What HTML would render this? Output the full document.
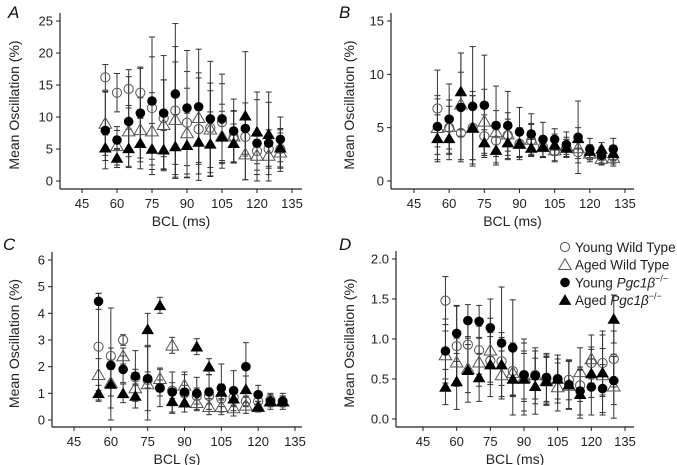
<!DOCTYPE html>
<html><head><meta charset="utf-8"><style>
body{margin:0;background:#fff;}
svg{display:block;font-family:"Liberation Sans",Arial,sans-serif;}
</style></head><body>
<svg id="fig" width="677" height="465" viewBox="0 0 677 465"></svg>
<script>
const bcl = [55,60,65,70,75,80,85,90,95,100,105,110,115,120,125,130];
const xTicks = [45,60,75,90,105,120,135];
// Panel A
const aYWT = [16.2,13.8,14.4,13.8,11.4,9.8,11,9.1,8.1,8.3,9.2,6.9,6.9,4.7,5,5];
const aAWT = [9,5.5,7.8,8,7.8,8.8,9.6,7.5,9.9,8.1,7,7,4.2,4,4,4.5];
const aYP = [7.9,6.4,9.3,10.6,12.5,10.6,13.6,11.4,11.6,9.7,9.7,7.8,8.2,5.9,5.9,6.5];
const aAP = [5.2,3.6,5.1,5.9,5,4.9,5.4,5.6,6.1,5.8,6.9,5.9,10.2,7.7,7.3,5.2];
const aYWTe = [2,3,3,4,8,6,10,8,8,7,6,4,3,3,3,3];
const aAWTe = [5,3,4,5,6,7,9,7,7,6,5,4,4,3,3,3];
const aYPe = [6,1.5,7,7,10,9,11,9,9,9,7,5,4,8,8,3.5];
const aAPe = [2,1.5,3,4,4,3,5,5,5,5,4,3,10,5,5,3];
const aYTicks = [0,5,10,15,20,25];
// Panel B
const bYWT = [6.8,5,4.5,5,4.2,3.8,4.3,3.5,3.8,3.2,2.8,3.1,2.7,2.4,2.3,2.3];
const bAWT = [5,5.1,7.2,5,5.6,4.6,4.4,3.5,3.9,3.2,2.9,3.3,3.1,2.6,2.1,2.2];
const bYP = [5.1,5.8,6.9,7,7.1,5.2,5.2,4.6,4.4,3.9,3.9,3.4,4.1,3,2.4,3];
const bAP = [4,4,8.4,5,3.6,2.9,3.6,3.5,3.1,3.2,3.4,3.1,4,2.8,3,2.6];
const bYWTe = [3.6,2,2.5,3,2,1.5,1.5,1.3,1.5,1,1,0.8,1,0.6,0.6,0.7];
const bAWTe = [3,2.5,3,3,3,2,2,1.5,1.5,1,1,0.8,1,0.6,0.6,0.8];
const bYPe = [2.6,3.3,5.1,5.6,4.7,3.7,3.2,2.3,1.9,1.6,1,1.2,3.4,1,0.8,1];
const bAPe = [2.2,2,3.6,3.4,1.2,1.2,1.5,1.2,0.8,1,1,0.8,1,0.6,0.6,0.7];
const bYTicks = [0,5,10,15];
// Panel C
const cYWT = [2.75,2.4,3,1.6,1.5,1.2,1.1,1,0.9,0.9,0.8,0.85,0.7,0.7,0.75,0.7];
const cAWT = [1.7,1.4,2.4,1.2,1.35,1.55,2.8,1.3,0.65,0.5,0.5,0.45,0.55,0.5,0.7,0.7];
const cYP = [4.45,2.05,1.9,1.65,1.55,1.2,1.05,1.05,1,1.05,1.2,1.1,2,0.95,0.7,0.7];
const cAP = [1,1.35,1,0.9,3.4,4.3,0.7,0.65,2.75,2,1.05,0.8,1.15,0.5,0.7,0.7];
const cYWTe = [2.0,0.3,0.2,0.3,0.3,0.3,0.3,0.3,0.3,0.3,0.3,0.3,0.2,0.2,0.2,0.2];
const cAWTe = [0.6,0.5,0.3,0.4,1.4,0.4,0.3,0.4,0.3,0.3,0.3,0.3,0.3,0.2,0.2,0.2];
const cYPe = [0.3,2.15,0.5,0.95,1.2,0.7,0.75,0.75,0.6,0.65,0.9,0.75,0.9,0.35,0.3,0.3];
const cAPe = [0.3,0.9,0.35,0.45,0.6,0.3,0.45,0.35,0.3,0.3,0.3,0.3,0.5,0.2,0.2,0.2];
const cYTicks = [0,1,2,3,4,5,6];
// Panel D
const dYWT = [1.48,0.91,0.93,0.86,0.73,0.72,0.6,0.55,0.55,0.5,0.5,0.49,0.42,0.7,0.7,0.75];
const dAWT = [0.8,0.71,0.63,0.71,0.86,0.55,0.58,0.52,0.55,0.48,0.4,0.42,0.59,0.75,0.55,0.41];
const dYP = [0.85,1.07,1.23,1.22,1.14,0.95,0.89,0.55,0.54,0.52,0.5,0.43,0.35,0.4,0.38,0.48];
const dAP = [0.4,0.47,0.61,0.52,0.68,0.68,0.5,0.5,0.41,0.47,0.5,0.43,0.31,0.57,0.58,1.25];
const dYWTe = [0.3,0.5,0.3,0.3,0.3,0.3,0.3,0.3,0.3,0.3,0.25,0.25,0.2,0.2,0.4,0.35];
const dAWTe = [0.3,0.3,0.3,0.3,0.4,0.3,0.3,0.3,0.3,0.3,0.3,0.3,0.3,0.3,0.5,0.4];
const dYPe = [0.4,0.35,0.2,0.2,0.36,0.7,0.6,0.45,0.35,0.3,0.3,0.3,0.3,0.35,0.3,0.3];
const dAPe = [0.22,0.35,0.4,0.3,0.4,0.4,0.45,0.45,0.35,0.3,0.3,0.3,0.3,0.3,0.3,0.3];
const dYTicks = [0,0.5,1,1.5,2];

const NS='http://www.w3.org/2000/svg';
const svg=document.getElementById('fig');
function mk(tag,attrs,parent,text){const e=document.createElementNS(NS,tag);for(const k in attrs)e.setAttribute(k,attrs[k]);if(text!==undefined)e.textContent=text;(parent||svg).appendChild(e);return e;}

function panel(cfg){
  const g=mk('g',{});
  
  
  const X=v=>cfg.x45+(v-45)*(cfg.x135-cfg.x45)/90;
  const Y=v=>cfg.y0+(v-0)*(cfg.yTop-cfg.y0)/cfg.ymax;
  const lbl=mk('text',{x:cfg.lx,y:cfg.ly,'font-size':17,'font-style':'italic',fill:'#111'},g,cfg.id);
  
  
  const ya=mk('line',{x1:cfg.ax,x2:cfg.ax,y1:cfg.yTop-8,y2:cfg.axY,stroke:'#222','stroke-width':1.2},g);
  
  
  const xa=mk('line',{x1:cfg.ax,x2:cfg.axEnd,y1:cfg.axY,y2:cfg.axY,stroke:'#222','stroke-width':1.2},g);
  
  
  cfg.yticks.forEach(t=>{
    mk('line',{x1:cfg.ax-4,x2:cfg.ax,y1:Y(t),y2:Y(t),stroke:'#222'},g);
    const tl=mk('text',{x:cfg.ax-7,y:Y(t)+4.5,'font-size':13,'text-anchor':'end',fill:'#222'},g,cfg.fmt(t));
    
    
  });
  xTicks.forEach(t=>{
    mk('line',{x1:X(t),x2:X(t),y1:cfg.axY,y2:cfg.axY+4,stroke:'#222'},g);
    const tl=mk('text',{x:X(t),y:cfg.axY+19,'font-size':13,'text-anchor':'middle',fill:'#222'},g,String(t));
    
    
  });
  const xt=mk('text',{x:(cfg.ax+cfg.axEnd)/2,y:cfg.axY+37,'font-size':14,'text-anchor':'middle',fill:'#222'},g,cfg.xtitle);
  
  
  const cy=(cfg.yTop+cfg.axY)/2;
  const yt=mk('text',{x:cfg.ytx,y:cy,'font-size':14,'text-anchor':'middle',fill:'#222',transform:`rotate(-90 ${cfg.ytx} ${cy})`},g,'Mean Oscillation (%)');
  
  
  const series=[['young-wt',cfg.s[0],cfg.e[0],'oc'],['aged-wt',cfg.s[1],cfg.e[1],'ot'],['young-pgc',cfg.s[2],cfg.e[2],'fc'],['aged-pgc',cfg.s[3],cfg.e[3],'ft']];
  series.forEach(([nm,vals,errs])=>{
    vals.forEach((v,i)=>{
      const x=X(bcl[i]);const lo=Math.max(0,v-errs[i]);const hi=Math.min(cfg.ymax,v+errs[i]);
      const eb=mk('line',{x1:x,x2:x,y1:Y(lo),y2:Y(hi),stroke:'#333','stroke-width':1},g);
      
      
      mk('line',{x1:x-3,x2:x+3,y1:Y(lo),y2:Y(lo),stroke:'#333'},g);
      mk('line',{x1:x-3,x2:x+3,y1:Y(hi),y2:Y(hi),stroke:'#333'},g);
    });
  });
  series.forEach(([nm,vals,errs,sh])=>{
    vals.forEach((v,i)=>{
      const m=marker(g,sh,X(bcl[i]),Y(v));
      
      
    });
  });
}
function marker(g,sh,x,y){
  if(sh==='oc')return mk('circle',{cx:x,cy:y,r:4.6,fill:'none',stroke:'#555','stroke-width':1},g);
  if(sh==='fc')return mk('circle',{cx:x,cy:y,r:4.8,fill:'#000'},g);
  const s=6;const pts=`${x},${y-s} ${x-s*1.05},${y+s*0.8} ${x+s*1.05},${y+s*0.8}`;
  if(sh==='ot')return mk('polygon',{points:pts,fill:'none',stroke:'#555','stroke-width':1},g);
  return mk('polygon',{points:pts,fill:'#000'},g);
}
panel({id:'A',lx:8,ly:18,ax:60,axEnd:302,axY:189,x45:82,x135:292,y0:181,yTop:21,ymax:25,yticks:aYTicks,fmt:t=>String(t),xtitle:'BCL (ms)',ytx:19,
  s:[aYWT,aAWT,aYP,aAP],e:[aYWTe,aAWTe,aYPe,aAPe]});
panel({id:'B',lx:339,ly:18,ax:391,axEnd:634,axY:189,x45:414,x135:625,y0:181,yTop:21,ymax:15,yticks:bYTicks,fmt:t=>String(t),xtitle:'BCL (ms)',ytx:354,
  s:[bYWT,bAWT,bYP,bAP],e:[bYWTe,bAWTe,bYPe,bAPe]});
panel({id:'C',lx:3,ly:250,ax:52,axEnd:302,axY:427,x45:74,x135:295,y0:420,yTop:260,ymax:6,yticks:cYTicks,fmt:t=>String(t),xtitle:'BCL (s)',ytx:19,
  s:[cYWT,cAWT,cYP,cAP],e:[cYWTe,cAWTe,cYPe,cAPe]});
panel({id:'D',lx:339,ly:250,ax:396,axEnd:634,axY:427,x45:423,x135:625,y0:419,yTop:259,ymax:2,yticks:dYTicks,fmt:t=>t.toFixed(1),xtitle:'BCL (ms)',ytx:354,
  s:[dYWT,dAWT,dYP,dAP],e:[dYWTe,dAWTe,dYPe,dAPe]});

// legend
const leg=mk('g',{});


const legItems=[['oc','Young Wild Type',''],['ot','Aged Wild Type',''],['fc','Young ','Pgc1β'],['ft','Aged ','Pgc1β']];
legItems.forEach((it,i)=>{
  const y=247+i*17.7;
  const m=marker(leg,it[0],565,y);
  
  
  const t=mk('text',{x:575,y:y+5,'font-size':13.5,fill:'#222'},leg,it[1]);
  
  
  if(it[2]){
    mk('tspan',{'font-style':'italic'},t,it[2]);
    mk('tspan',{'font-size':9,dy:-6},t,'−/−');
  }
});
</script>
</body></html>
